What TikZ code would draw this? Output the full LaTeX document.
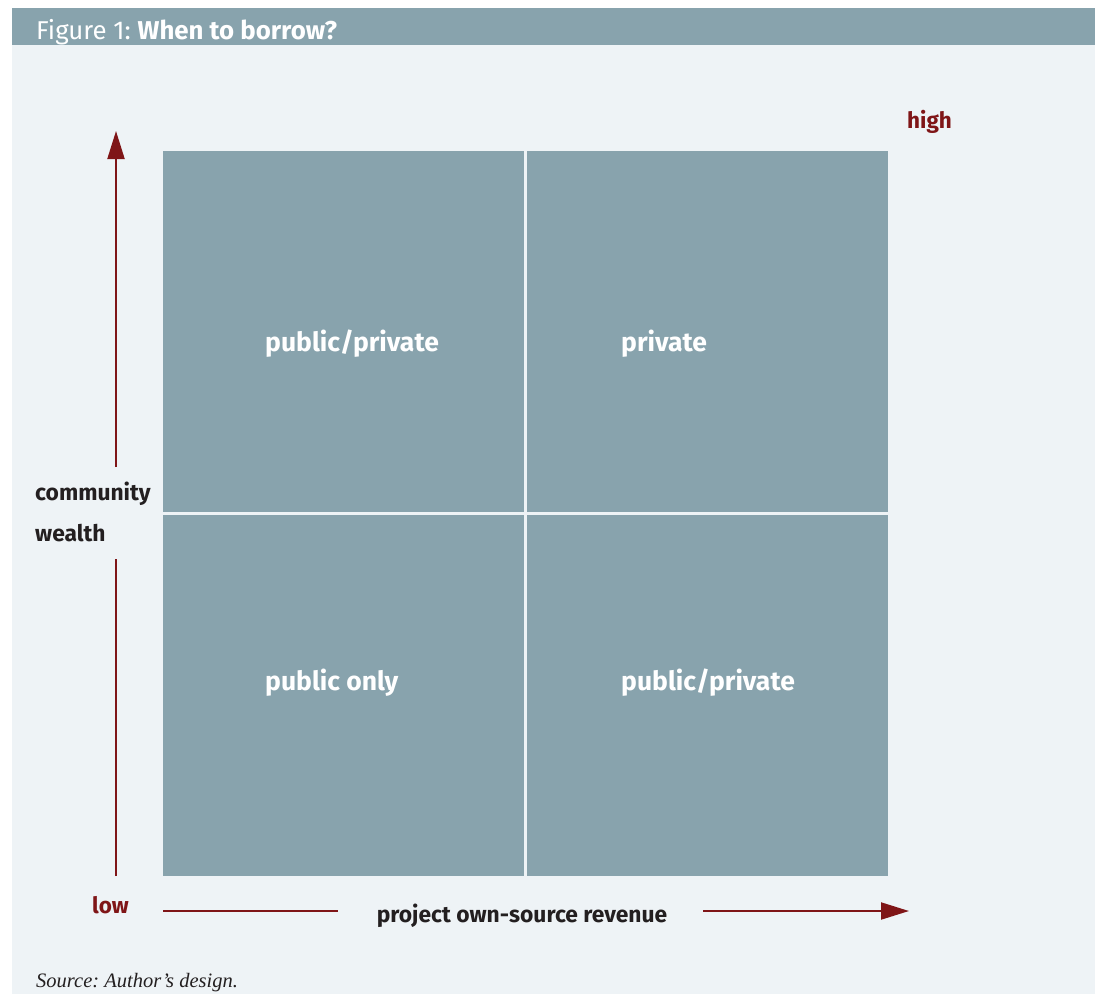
\documentclass[tikz,border=0pt]{standalone}
\usepackage{fontspec}
\setmainfont{Fira Sans}
\newfontfamily\srcfont{Liberation Serif}
\usetikzlibrary{arrows.meta,positioning}
\definecolor{panel}{HTML}{EEF3F6}
\definecolor{slate}{HTML}{88A3AD}
\definecolor{wine}{HTML}{7F1517}
\definecolor{ink}{HTML}{231F20}
\tikzset{
  cell/.style={fill=slate,minimum width=361pt,minimum height=361pt,inner sep=0pt,anchor=north west},
  quad/.style={anchor=base west,inner sep=0pt,text=white,font=\fontsize{26.5}{26.5}\selectfont\bfseries},
  axislabel/.style={inner sep=0pt,text=ink,font=\fontsize{22.8}{22.8}\selectfont\bfseries},
  endlabel/.style={inner sep=0pt,text=wine,font=\fontsize{22.5}{22.5}\selectfont\bfseries},
  axis/.style={color=wine,line width=2pt},
  tip/.style={-{Triangle[length=28pt,width=17pt]}},
}
\frenchspacing
\begin{document}
\begin{tikzpicture}[x=1pt,y=-1pt]
    \useasboundingbox (0,0) rectangle (1095,994);
    \fill[white] (0,0) rectangle (1095,994);
    \fill[panel] (12,45) rectangle (1095,994);
    \fill[slate] (12,8) rectangle (1095,45);
    \node[anchor=base west,inner sep=0pt,text=white,font=\fontsize{25.8}{25.8}\selectfont] (title) at (36,39)
      {Figure 1: \textbf{When to borrow?}};
    % the four quadrants
    \node[cell] (tl) at (163,151) {};
    \node[cell] (tr) [right = 2pt of tl] {};
    \node[cell] (bl) [below = 2pt of tl] {};
    \node[cell] (br) [right = 2pt of bl] {};
    \node[quad] (tllab) at (265,351) {public/private};
    \node[quad] (trlab) at (621,351) {private};
    \node[quad] (bllab) at (265,690) {public only};
    \node[quad] (brlab) at (621,690) {public/private};
    % axes
    \node[axislabel,anchor=base west] (wealth1) at (35,500) {community};
    \node[axislabel,anchor=base west] (wealth2) at (35,541) {wealth};
    \node[axislabel,anchor=base] (revenue) at (522,922) {project own-source revenue};
    \node[endlabel,anchor=base west] (low) at (92,913) {low};
    \node[endlabel,anchor=base west] (high) at (907,128) {high};
    \coordinate (ybot) at (116,876);
    \coordinate (ygap1) at (116,559);
    \coordinate (ygap2) at (116,467);
    \coordinate (ytop) at (116,131);
    \coordinate (xleft) at (163,911);
    \coordinate (xgap1) at (338,911);
    \coordinate (xgap2) at (703,911);
    \coordinate (xright) at (909,911);
    \path[axis]
    (ybot) edge (ygap1)
    (ygap2) edge [tip] (ytop)
    (xleft) edge (xgap1)
    (xgap2) edge [tip] (xright)
    ;
    \node[anchor=base west,inner sep=0pt,text=ink,font=\srcfont\itshape\fontsize{20.5}{20.5}\selectfont] (source) at (36,987)
      {Source: Author’s design.};
  \end{tikzpicture}
\end{document}
